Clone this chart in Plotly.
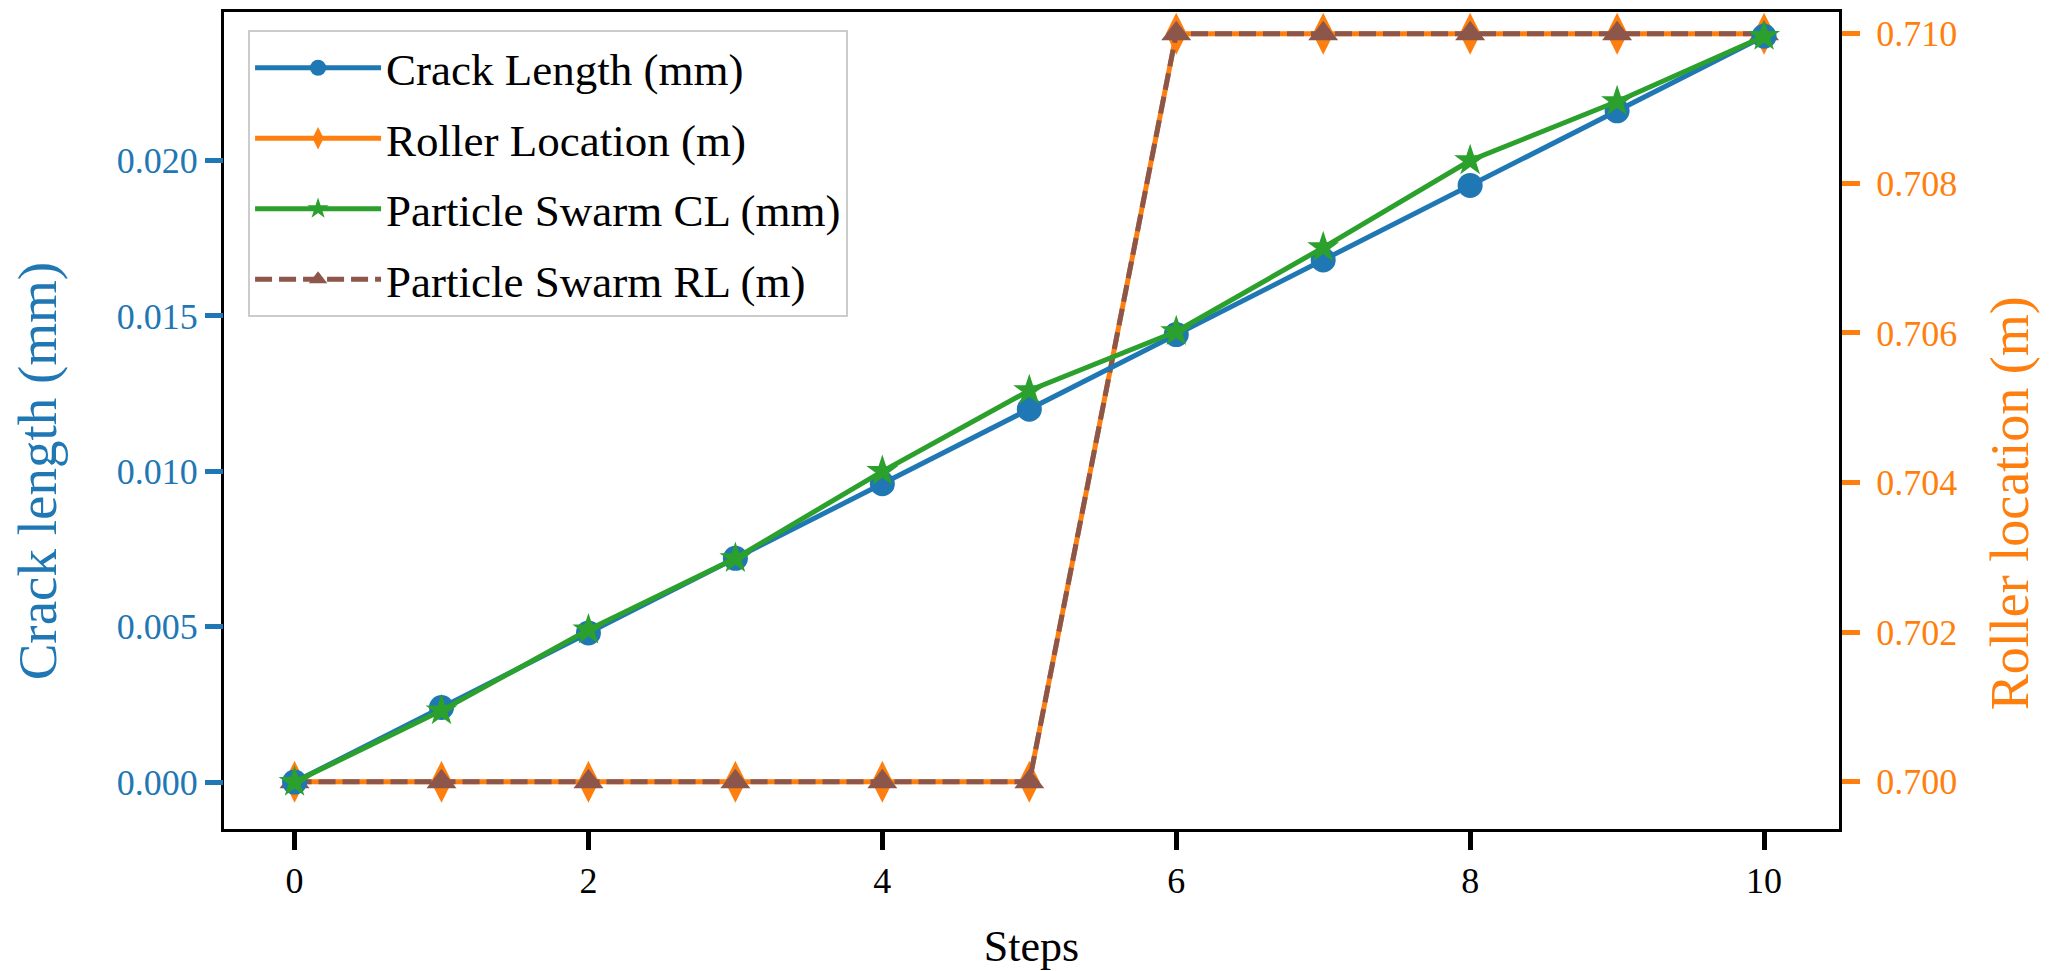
import plotly.graph_objects as go

steps = [0, 1, 2, 3, 4, 5, 6, 7, 8, 9, 10]
crack_length = [0.0, 0.0024, 0.0048, 0.0072, 0.0096, 0.0120, 0.0144, 0.0168, 0.0192, 0.0216, 0.0240]
roller_location = [0.700, 0.700, 0.700, 0.700, 0.700, 0.700, 0.710, 0.710, 0.710, 0.710, 0.710]
ps_crack_length = [0.0, 0.0023, 0.0049, 0.0072, 0.0100, 0.0126, 0.0145, 0.0172, 0.0200, 0.0219, 0.0240]
ps_roller_location = [0.700, 0.700, 0.700, 0.700, 0.700, 0.700, 0.710, 0.710, 0.710, 0.710, 0.710]

x_ticks = [0, 2, 4, 6, 8, 10]
left_ticks = [0.000, 0.005, 0.010, 0.015, 0.020]
right_ticks = [0.700, 0.702, 0.704, 0.706, 0.708, 0.710]

BLUE = "#1f77b4"
ORANGE = "#ff7f0e"
GREEN = "#2ca02c"
BROWN = "#8c564b"
FONT = "Liberation Serif"

fig = go.Figure()

# Roller series on base axis (right side), drawn beneath
fig.add_trace(go.Scatter(
    x=steps, y=roller_location, name="Roller Location (m)", mode="lines+markers",
    line=dict(color=ORANGE, width=5),
    marker=dict(symbol="diamond-tall", size=30, color=ORANGE),
    xaxis="x", yaxis="y", legendrank=2, legendgroup="b"))
fig.add_trace(go.Scatter(
    x=steps, y=ps_roller_location, name="Particle Swarm RL (m)", mode="lines+markers",
    line=dict(color=BROWN, width=5, dash="17px,7px"),
    marker=dict(symbol="triangle-up", size=26, color=BROWN),
    xaxis="x", yaxis="y", legendrank=4, legendgroup="d"))
# Crack series on overlay axis (left side), drawn on top
fig.add_trace(go.Scatter(
    x=steps, y=crack_length, name="Crack Length (mm)", mode="lines+markers",
    line=dict(color=BLUE, width=5),
    marker=dict(symbol="circle", size=25, color=BLUE),
    xaxis="x", yaxis="y2", legendrank=1, legendgroup="a"))
fig.add_trace(go.Scatter(
    x=steps, y=ps_crack_length, name="Particle Swarm CL (mm)", mode="lines+markers",
    line=dict(color=GREEN, width=5),
    marker=dict(symbol="star", size=24, color=GREEN),
    xaxis="x", yaxis="y2", legendrank=3, legendgroup="c"))

fig.update_layout(
    width=2049, height=971, autosize=False,
    margin=dict(l=224, r=210, t=9, b=142),
    paper_bgcolor="white", plot_bgcolor="white",
    font=dict(family=FONT, color="black"),
    showlegend=True,
    legend=dict(
        x=0.0149, y=0.978, xanchor="left", yanchor="top",
        bgcolor="rgba(255,255,255,0.85)", bordercolor="#cccccc", borderwidth=2,
        font=dict(family=FONT, size=45, color="black"),
        tracegroupgap=9, itemwidth=126,
    ),
    xaxis=dict(
        range=[-0.48, 10.51], tickvals=x_ticks, ticktext=[str(v) for v in x_ticks],
        showgrid=False, zeroline=False,
        showline=True, linecolor="black", linewidth=3, mirror=True,
        ticks="outside", ticklen=18, tickwidth=5, tickcolor="black",
        tickfont=dict(family=FONT, size=36, color="black"),
        title=dict(text="Steps", font=dict(family=FONT, size=44, color="black"), standoff=30),
    ),
    yaxis=dict(
        side="right", range=[0.69937, 0.71029],
        tickvals=right_ticks, ticktext=[f"{v:.3f}" for v in right_ticks],
        showgrid=False, zeroline=False,
        showline=True, linecolor="black", linewidth=3, mirror=True,
        ticks="outside", ticklen=18, tickwidth=5, tickcolor=ORANGE,
        tickfont=dict(family=FONT, size=36, color=ORANGE),
        ticklabelstandoff=9,
    ),
    yaxis2=dict(
        overlaying="y", side="left", range=[-0.00151, 0.02478],
        tickvals=left_ticks, ticktext=[f"{v:.3f}" for v in left_ticks],
        showgrid=False, zeroline=False, showline=False,
        ticks="outside", ticklen=18, tickwidth=5, tickcolor=BLUE,
        tickfont=dict(family=FONT, size=36, color=BLUE),
    ),
    annotations=[
        dict(text="Crack length (mm)", xref="paper", yref="paper", x=-0.1158, y=0.439,
             xanchor="center", yanchor="middle", textangle=-90, showarrow=False,
             font=dict(family=FONT, size=55, color=BLUE)),
        dict(text="Roller location (m)", xref="paper", yref="paper", x=1.106, y=0.399,
             xanchor="center", yanchor="middle", textangle=-90, showarrow=False,
             font=dict(family=FONT, size=54, color=ORANGE)),
    ],
)

fig.write_html("out.html")
